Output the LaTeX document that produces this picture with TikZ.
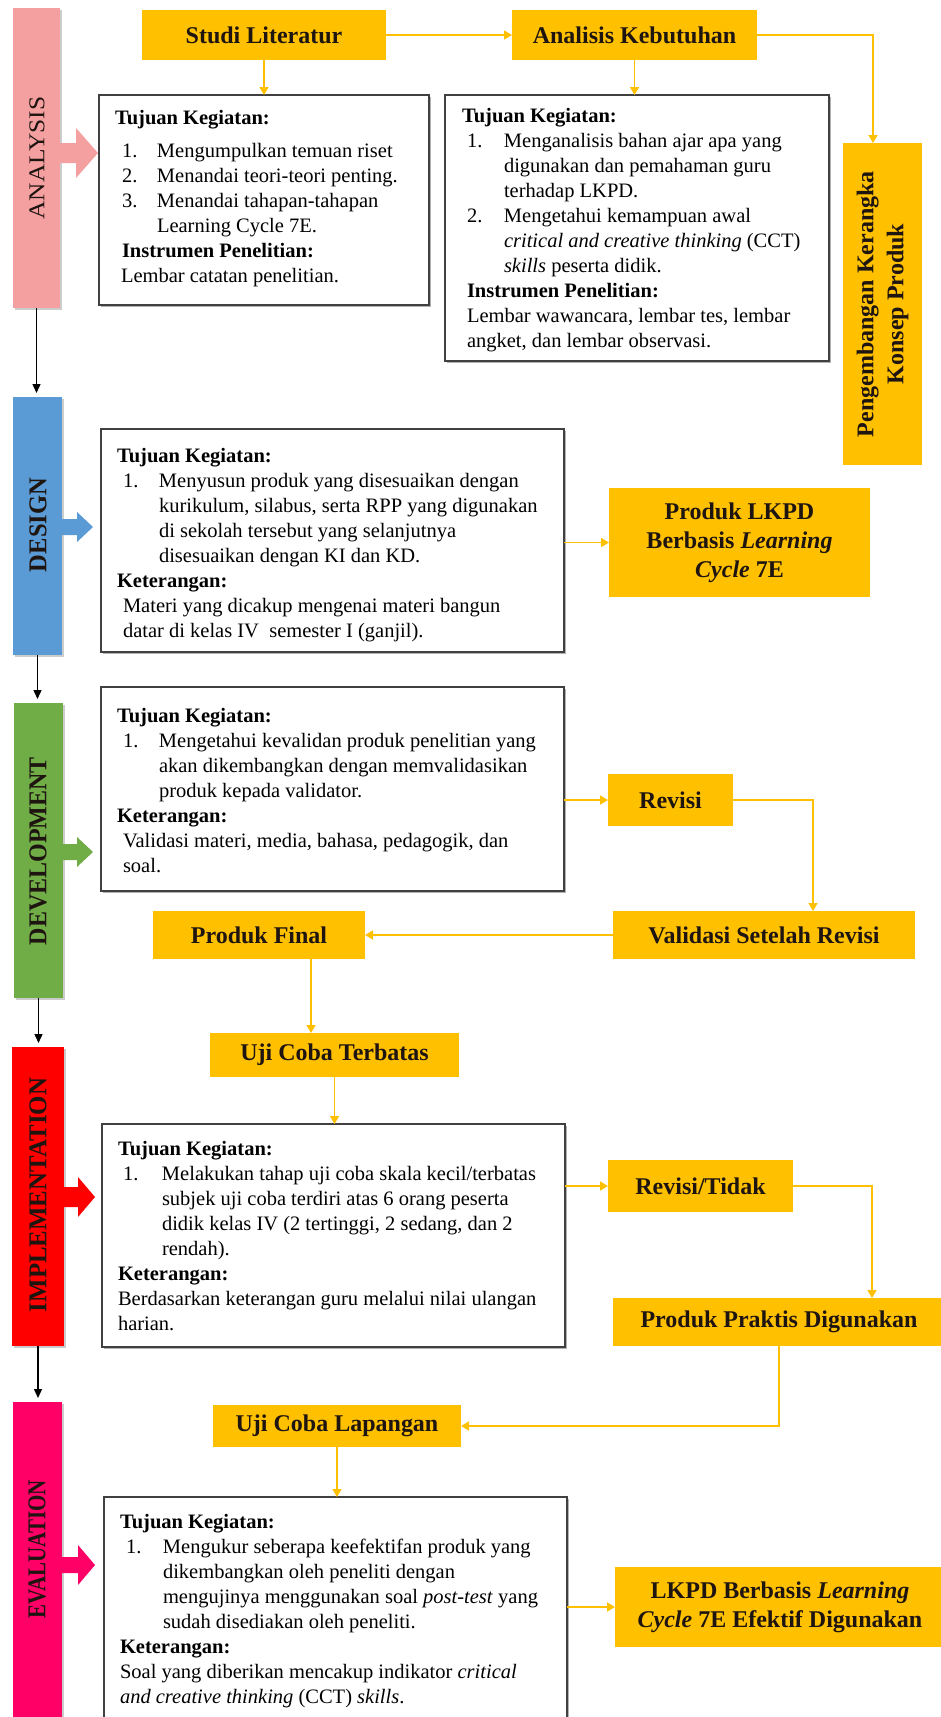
\documentclass[tikz,border=0pt]{standalone}
\usepackage{fontspec}
\setmainfont{Liberation Serif}
\usetikzlibrary{arrows.meta,shadows}
\definecolor{ygold}{HTML}{FFC000}
\definecolor{cana}{RGB}{245,160,160}
\definecolor{cdes}{HTML}{5B9BD5}
\definecolor{cdev}{HTML}{70AD47}
\definecolor{cimp}{HTML}{FF0000}
\definecolor{ceva}{HTML}{FF0066}
\definecolor{ink}{HTML}{1E1410}
\newcommand\mcol[1]{\multicolumn{2}{@{}l@{}}{#1}}
\begin{document}
\begin{tikzpicture}[x=1pt,y=-1pt,
  ybox/.style={fill=ygold, inner sep=0pt, outer sep=0pt, align=center, text=ink, font=\fontsize{24}{29}\selectfont\bfseries},
  wbox/.style={draw=black!75, line width=1.2pt, fill=white, inner sep=0pt, outer sep=0pt, anchor=north west, drop shadow={shadow xshift=1.5pt, shadow yshift=-1.5pt, fill=black, opacity=0.3}},
  bar/.style={inner sep=0pt, outer sep=0pt, anchor=north west, drop shadow={shadow xshift=1.5pt, shadow yshift=-1.5pt, fill=black, opacity=0.2}},
  btxt/.style={inner sep=0pt, rotate=90, text=ink},
  txt/.style={inner sep=0pt, outer sep=0pt, anchor=base west, text=black, font=\fontsize{20.5}{25}\selectfont},
  yarr/.style={draw=ygold, line width=1.6pt, -{Triangle[width=9pt,length=8pt]}},
  karr/.style={draw=black, line width=1.3pt, -{Triangle[width=8pt,length=9pt]}, shorten >=4pt},
]
\useasboundingbox[fill=white] (0,0) rectangle (941,1717);

% ---------- phase bars ----------
\node[bar, fill=cana, minimum width=47, minimum height=300] (bana) at (13,8) {};
\node[bar, fill=cdes, minimum width=49, minimum height=258] (bdes) at (13,397) {};
\node[bar, fill=cdev, minimum width=49, minimum height=295] (bdev) at (14,703) {};
\node[bar, fill=cimp, minimum width=52, minimum height=299] (bimp) at (12,1047) {};
\node[bar, fill=ceva, minimum width=49, minimum height=330] (beva) at (13,1402) {};

\node[btxt] (lana) at (37,158) {\resizebox{123pt}{15pt}{ANALYSIS}};
\node[btxt] (ldes) at (38,525) {\resizebox{94pt}{17pt}{\bfseries DESIGN}};
\node[btxt] (ldev) at (38,851) {\resizebox{188pt}{17pt}{\bfseries DEVELOPMENT}};
\node[btxt] (limp) at (38,1195) {\resizebox{234pt}{17pt}{\bfseries IMPLEMENTATION}};
\node[btxt] (leva) at (37,1549) {\resizebox{138pt}{17pt}{\bfseries EVALUATION}};

% block arrows
\fill[cana] (60,143) -- (76,143) -- (76,128) -- (98,153) -- (76,178) -- (76,163) -- (60,163) -- cycle;
\fill[cdes] (62,519) -- (77,519) -- (77,512) -- (93,527) -- (77,542) -- (77,535) -- (62,535) -- cycle;
\fill[cdev] (63,844) -- (77,844) -- (77,837) -- (93,852) -- (77,867) -- (77,860) -- (63,860) -- cycle;
\fill[cimp] (64,1187) -- (78,1187) -- (78,1177) -- (95,1197) -- (78,1217) -- (78,1207) -- (64,1207) -- cycle;
\fill[ceva] (62,1557) -- (78,1557) -- (78,1545) -- (95,1565) -- (78,1585) -- (78,1573) -- (62,1573) -- cycle;

% black arrows between phases
\draw[karr] (bana.south) -- (bana.south |- bdes.north);
\draw[karr] (bdes.south) -- (bdes.south |- bdev.north);
\draw[karr] (bdev.south) -- (bdev.south |- bimp.north);
\draw[karr] (bimp.south) -- (bimp.south |- beva.north);

% ---------- white boxes ----------
\node[wbox, minimum width=330, minimum height=210] (b1) at (99,95) {};
\node[wbox, minimum width=384, minimum height=266] (b2) at (445,95) {};
\node[wbox, minimum width=463, minimum height=223] (bd) at (101,429) {};
\node[wbox, minimum width=463, minimum height=204] (bv) at (101,687) {};
\node[wbox, minimum width=463, minimum height=223] (bi) at (102,1124) {};
\node[wbox, minimum width=463, minimum height=240] (be) at (104,1497) {};

\node[txt] (t1) at (115,124) {\begin{tabular}[t]{@{}p{42pt}@{}l@{}}
\mcol{\textbf{Tujuan Kegiatan:}}\\[8pt]
\hspace*{7pt}1. & Mengumpulkan temuan riset\\
\hspace*{7pt}2. & Menandai teori-teori penting.\\
\hspace*{7pt}3. & Menandai tahapan-tahapan\\
 & Learning Cycle 7E.\\
\mcol{\hspace*{7pt}\textbf{Instrumen Penelitian:}}\\
\mcol{\hspace*{6pt}Lembar catatan penelitian.}
\end{tabular}};

\node[txt] (t2) at (462,122) {\begin{tabular}[t]{@{}p{42pt}@{}l@{}}
\mcol{\textbf{Tujuan Kegiatan:}}\\
\hspace*{5pt}1. & Menganalisis bahan ajar apa yang\\
 & digunakan dan pemahaman guru\\
 & terhadap LKPD.\\
\hspace*{5pt}2. & Mengetahui kemampuan awal\\
 & \textit{critical and creative thinking} (CCT)\\
 & \textit{skills} peserta didik.\\
\mcol{\hspace*{5pt}\textbf{Instrumen Penelitian:}}\\
\mcol{\hspace*{5pt}Lembar wawancara, lembar tes, lembar}\\
\mcol{\hspace*{5pt}angket, dan lembar observasi.}
\end{tabular}};

\node[txt] (td) at (117,462) {\begin{tabular}[t]{@{}p{42pt}@{}l@{}}
\mcol{\textbf{Tujuan Kegiatan:}}\\
\hspace*{6pt}1. & Menyusun produk yang disesuaikan dengan\\
 & kurikulum, silabus, serta RPP yang digunakan\\
 & di sekolah tersebut yang selanjutnya\\
 & disesuaikan dengan KI dan KD.\\
\mcol{\textbf{Keterangan:}}\\
\mcol{\hspace*{6pt}Materi yang dicakup mengenai materi bangun}\\
\mcol{\hspace*{6pt}datar di kelas IV\ \ semester I (ganjil).}
\end{tabular}};

\node[txt] (tv) at (117,722) {\begin{tabular}[t]{@{}p{42pt}@{}l@{}}
\mcol{\textbf{Tujuan Kegiatan:}}\\
\hspace*{6pt}1. & Mengetahui kevalidan produk penelitian yang\\
 & akan dikembangkan dengan memvalidasikan\\
 & produk kepada validator.\\
\mcol{\textbf{Keterangan:}}\\
\mcol{\hspace*{6pt}Validasi materi, media, bahasa, pedagogik, dan}\\
\mcol{\hspace*{6pt}soal.}
\end{tabular}};

\node[txt] (ti) at (118,1155) {\begin{tabular}[t]{@{}p{44pt}@{}l@{}}
\mcol{\textbf{Tujuan Kegiatan:}}\\
\hspace*{5pt}1. & Melakukan tahap uji coba skala kecil/terbatas\\
 & subjek uji coba terdiri atas 6 orang peserta\\
 & didik kelas IV (2 tertinggi, 2 sedang, dan 2\\
 & rendah).\\
\mcol{\textbf{Keterangan:}}\\
\mcol{Berdasarkan keterangan guru melalui nilai ulangan}\\
\mcol{harian.}
\end{tabular}};

\node[txt] (te) at (120,1528) {\begin{tabular}[t]{@{}p{43pt}@{}l@{}}
\mcol{\textbf{Tujuan Kegiatan:}}\\
\hspace*{6pt}1. & Mengukur seberapa keefektifan produk yang\\
 & dikembangkan oleh peneliti dengan\\
 & mengujinya menggunakan soal \textit{post-test} yang\\
 & sudah disediakan oleh peneliti.\\
\mcol{\textbf{Keterangan:}}\\
\mcol{Soal yang diberikan mencakup indikator \textit{critical}}\\
\mcol{\textit{and creative thinking} (CCT) \textit{skills}.}
\end{tabular}};

% ---------- yellow boxes ----------
\node[ybox, minimum width=244, minimum height=50] (studi) at (264,35) {Studi Literatur};
\node[ybox, minimum width=245, minimum height=50] (anal) at (634.5,35) {Analisis Kebutuhan};
\node[ybox, minimum width=79, minimum height=322] (peng) at (882.5,304) {};
\node[btxt, align=center, font=\fontsize{24}{30}\selectfont\bfseries] (pengt) at (peng.center) {Pengembangan Kerangka\\Konsep Produk};
\node[ybox, minimum width=261, minimum height=109] (prod) at (739.5,542.5) {Produk LKPD\\Berbasis \textit{Learning}\\\textit{Cycle} 7E};
\node[ybox, minimum width=125, minimum height=52] (rev) at (670.5,800) {Revisi};
\node[ybox, minimum width=302, minimum height=48] (val) at (764,935) {Validasi Setelah Revisi};
\node[ybox, minimum width=212, minimum height=48] (fin) at (259,935) {Produk Final};
\node[ybox, minimum width=249, minimum height=44] (uct) at (334.5,1055) {Uji Coba Terbatas};
\node[ybox, minimum width=185, minimum height=52] (rt) at (700.5,1186) {Revisi/Tidak};
\node[ybox, minimum width=332, minimum height=48] (pp) at (779,1322) {Produk Praktis Digunakan};
\node[ybox, minimum width=248, minimum height=42] (ucl) at (337,1426) {Uji Coba Lapangan};
\node[ybox, minimum width=330, minimum height=80] (le) at (780,1607) {LKPD Berbasis \textit{Learning}\\\textit{Cycle} 7E Efektif Digunakan};

% ---------- yellow connectors ----------
\draw[yarr] (studi) -- (anal);
\draw[yarr] (studi) -- (studi |- b1.north);
\draw[yarr] (anal) -- (anal |- b2.north);
\draw[yarr] (anal.east) -| ([xshift=-9.5pt]peng.north);
\draw[yarr] (bd.east |- prod.west) -- (prod.west);
\draw[yarr] (bv.east |- rev.west) -- (rev.west);
\draw[yarr] (rev.east) -| ([xshift=49pt]val.north);
\draw[yarr] (val.west) -- (fin.east);
\draw[yarr] ([xshift=52pt]fin.south) -- ([xshift=52pt]fin.south |- uct.north);
\draw[yarr] (uct.south) -- (uct.south |- bi.north);
\draw[yarr] (bi.east |- rt.west) -- (rt.west);
\draw[yarr] (rt.east) -| ([xshift=93pt]pp.north);
\draw[yarr] (pp.south) |- (ucl.east);
\draw[yarr] (ucl.south) -- (ucl.south |- be.north);
\draw[yarr] (be.east |- le.west) -- (le.west);
\end{tikzpicture}
\end{document}
